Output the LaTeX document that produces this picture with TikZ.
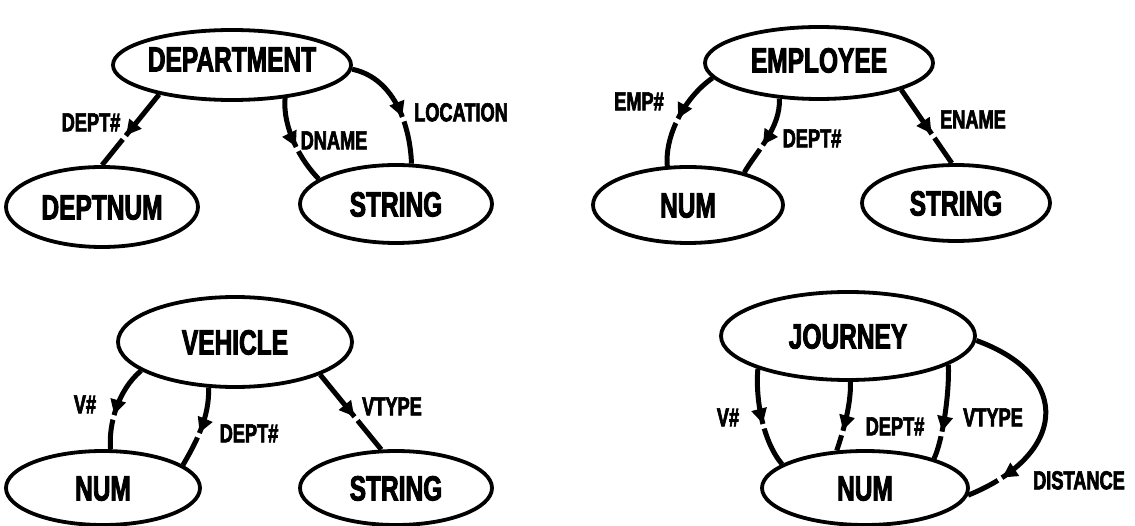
\documentclass[tikz,border=0pt]{standalone}
\usepackage{fontspec}
\setmainfont{Liberation Sans}[FakeStretch=0.7, BoldFeatures={FakeBold=2.5}]
\usetikzlibrary{shapes.geometric,arrows.meta,decorations.markings}
\tikzset{
  ent/.style={ellipse, draw, line width=3.8pt, inner sep=0pt,
    font=\fontsize{35}{35}\selectfont\bfseries, text height=25pt, text depth=0pt},
  lbl/.style={inner sep=0pt, font=\fontsize{26}{26}\selectfont\bfseries,
    text height=18.6pt, text depth=0pt},
  rel/.style={line width=5pt, postaction={decorate},
    decoration={markings, mark=at position #1 with {
      \fill[white] (0.5pt,-6pt) rectangle (5pt,6pt);
      \arrow{Triangle[length=15pt,width=15pt]}}}}
}
\begin{document}
\begin{tikzpicture}[x=1pt,y=-1pt]
\useasboundingbox (0,0) rectangle (1135,526);
% ---------- DEPARTMENT ----------
\node[ent, minimum width=234pt, minimum height=70pt, text depth=12pt] (dept) at (232,65) {DEPARTMENT};
\node[ent, minimum width=192pt, minimum height=80pt] (deptnum) at (102,207) {DEPTNUM};
\node[ent, minimum width=192pt, minimum height=78pt] (dstr) at (396,204) {STRING};
\draw[rel=0.58] (dept.-158) -- (deptnum.90);
\draw[rel=0.56] (dept.-32) .. controls +(-95:30pt) and +(135:25pt) .. (dstr.162);
\draw[rel=0.6] (dept.-2) .. controls +(-12:45pt) and +(92:35pt) .. (dstr.69);
\node[lbl] (l1) at (91,122) {DEPT\#};
\node[lbl] (l2) at (334,140) {DNAME};
\node[lbl] (l3) at (461,112) {LOCATION};
% ---------- EMPLOYEE ----------
\node[ent, minimum width=228pt, minimum height=72pt, text depth=6pt] (emp) at (819,63) {EMPLOYEE};
\node[ent, minimum width=190pt, minimum height=76pt] (enum) at (688,205) {NUM};
\node[ent, minimum width=188pt, minimum height=76pt] (estr) at (956,203) {STRING};
\draw[rel=0.52] (emp.-172) .. controls +(-145:35pt) and +(95:30pt) .. (enum.118);
\draw[rel=0.6] (emp.-138) .. controls +(-88:30pt) and +(60:25pt) .. (enum.30);
\draw[rel=0.6] (emp.-18) -- (estr.96);
\node[lbl] (l4) at (639,101) {EMP\#};
\node[lbl] (l5) at (812,138) {DEPT\#};
\node[lbl] (l6) at (973,119) {ENAME};
% ---------- VEHICLE ----------
\node[ent, minimum width=234pt, minimum height=90pt] (veh) at (235,342) {VEHICLE};
\node[ent, minimum width=194pt, minimum height=74pt] (vnum) at (103,488) {NUM};
\node[ent, minimum width=192pt, minimum height=74pt] (vstr) at (396,488) {STRING};
\draw[rel=0.6] (veh.-163) .. controls +(-140:30pt) and +(95:25pt) .. (vnum.79);
\draw[rel=0.56] (veh.-120) .. controls +(-88:30pt) and +(60:25pt) .. (vnum.16);
\draw[rel=0.56] (veh.-21) -- (vstr.111);
\node[lbl] (l7) at (85,404) {V\#};
\node[lbl] (l8) at (249,433) {DEPT\#};
\node[lbl] (l9) at (392,406) {VTYPE};
% ---------- JOURNEY ----------
\node[ent, minimum width=254pt, minimum height=88pt] (jour) at (848,336) {JOURNEY};
\node[ent, minimum width=206pt, minimum height=74pt] (jnum) at (865,488) {NUM};
\draw[rel=0.55] (jour.-160) .. controls +(-95:30pt) and +(130:30pt) .. (jnum.164);
\draw[rel=0.7] (jour.-87) .. controls +(-88:25pt) and +(72:15pt) .. (jnum.127);
\draw[rel=0.7] (jour.-16) .. controls +(-88:30pt) and +(65:20pt) .. (jnum.23);
\draw[rel=0.83] (jour.-2) .. controls +(-20:105pt) and +(22:105pt) .. (jnum.-4);
\node[lbl] (l10) at (728,417) {V\#};
\node[lbl] (l11) at (895,426) {DEPT\#};
\node[lbl] (l12) at (993,417) {VTYPE};
\node[lbl] (l13) at (1079,480) {DISTANCE};
\end{tikzpicture}
\end{document}
